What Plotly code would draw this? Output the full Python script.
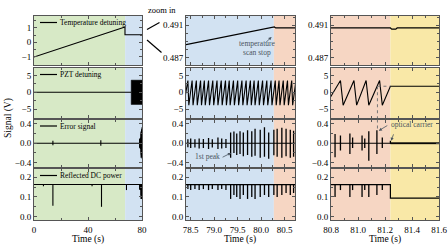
import plotly.graph_objects as go
from plotly.subplots import make_subplots

# ======================= DATA =======================
# phase boundaries (s)
ov_phase_t = [0, 67.5, 80]                 # overview: scan | locking
zm_phase_t = [78.4, 80.27, 81.24, 81.6]    # zoom: scan | stop | locked

# temperature detuning
ov_temp_t = [0, 67.4, 67.4, 80]
ov_temp_v = [-1.0, 1.05, 0.52, 0.52]
zm_temp_t = [78.4, 80.26, 80.28, 80.31, 81.24, 81.25, 81.28, 81.29, 81.6]
zm_temp_v = [0.48858, 0.49070, 0.49078, 0.49066, 0.49066, 0.49052, 0.49052, 0.49066, 0.49066]

# PZT detuning
ov_pzt_t = [0, 72]
ov_pzt_v = [0, 0]
ov_pzt_env_t = [72, 80]
ov_pzt_env_hi = [3.6, 3.6]
ov_pzt_env_lo = [-3.6, -3.6]
pzt_peak_t = [78.44, 78.53, 78.62, 78.71, 78.79, 78.88, 78.97, 79.06, 79.15, 79.24,
              79.32, 79.41, 79.50, 79.59, 79.68, 79.77, 79.85, 79.94, 80.03, 80.12,
              80.21, 80.30, 80.38, 80.47, 80.56, 80.65, 80.74, 80.87, 80.97, 81.06, 81.16]
pzt_trough_t = [78.46, 78.55, 78.64, 78.73, 78.81, 78.90, 78.99, 79.08, 79.17, 79.26,
                79.34, 79.43, 79.52, 79.61, 79.70, 79.79, 79.87, 79.96, 80.05, 80.14,
                80.23, 80.32, 80.40, 80.49, 80.58, 80.67, 80.76, 80.89, 80.99, 81.08, 81.18]
pzt_peak_v = 3.5
pzt_trough_v = -3.8
pzt_start = (78.35, -3.8)
pzt_lock_t = [81.24, 81.6]
pzt_lock_v = [1.8, 1.8]

# error signal
ov_err_t = [0, 80]
ov_err_v = [0, 0]
ov_err_spk_t = [14, 49.5]
ov_err_spk_hi = [0.05, 0.06]
ov_err_spk_lo = [-0.04, -0.05]
err_spk_t = [78.44, 78.50, 78.59, 78.68, 78.77, 78.88, 78.96, 79.08, 79.16, 79.25,
             79.35, 79.42, 79.48, 79.55, 79.62, 79.71, 79.80, 79.87, 79.98, 80.07,
             80.16, 80.27, 80.34, 80.44, 80.53, 80.62, 80.69,
             80.83, 80.87, 80.94, 80.96, 81.03, 81.05, 81.08, 81.14, 81.18, 81.24]
err_spk_hi = [0.08, 0.10, 0.08, 0.10, 0.09, 0.11, 0.08, 0.12, 0.10, 0.09,
              0.22, 0.24, 0.20, 0.25, 0.22, 0.27, 0.25, 0.30, 0.28, 0.33,
              0.22, 0.28, 0.30, 0.32, 0.30, 0.28, 0.26,
              0.19, 0.16, 0.20, 0.12, 0.16, 0.10, 0.25, 0.27, 0.12, 0.05]
err_spk_lo = [-0.08, -0.10, -0.09, -0.11, -0.10, -0.12, -0.09, -0.12, -0.11, -0.10,
              -0.30, -0.20, -0.24, -0.22, -0.27, -0.24, -0.28, -0.26, -0.30, -0.28,
              -0.32, -0.25, -0.28, -0.30, -0.27, -0.30, -0.28,
              -0.29, -0.15, -0.22, -0.10, -0.15, -0.10, -0.36, -0.22, -0.10, 0.0]
err_t = [78.4, 81.6]
err_v = [0, 0]
err_lock_t = [81.24, 81.6]
err_lock_hi = [0.012, 0.012]
err_lock_lo = [-0.012, -0.012]

# reflected DC power
dc_t = [0, 81.24, 81.24, 81.6]
dc_v = [0.163, 0.163, 0.094, 0.094]
ov_dc_dip_t = [7, 14, 43, 50, 68.5]
ov_dc_dip_lo = [0.155, 0.055, 0.155, 0.05, 0.135]
dc_dip_t = err_spk_t[:-1]
dc_dip_lo = [0.14, 0.135, 0.14, 0.135, 0.14, 0.135, 0.14, 0.135, 0.14, 0.135,
             0.09, 0.11, 0.10, 0.09, 0.11, 0.09, 0.10, 0.09, 0.10, 0.11,
             0.10, 0.11, 0.10, 0.11, 0.12, 0.11, 0.12,
             0.10, 0.135, 0.10, 0.135, 0.10, 0.135, 0.10, 0.11, 0.135]

# axis labels
row_names = ["Temperature detuning", "PZT detuning", "Error signal", "Reflected DC power"]
ov_xticks = [0, 40, 80]
mid_xticks = [78.5, 79.0, 79.5, 80.0, 80.5]
rt_xticks = [80.8, 81.0, 81.2, 81.4, 81.6]

# ======================= STYLE =======================
W, H = 448, 252
FONT = "Liberation Serif"
C_GREEN, C_BLUE, C_ORANGE, C_YELLOW = "#d7e9c6", "#d2e2f2", "#f6d6c3", "#f9e8a7"
FRAME = "#555555"
col_px = [(34, 142), (186, 295), (331, 439)]
row_px = [(16, 65), (68, 118), (119.5, 167), (169, 220)]

def PX(x):
    return x / W

def PY(y):
    return 1 - y / H

fig = make_subplots(rows=4, cols=3)

def ax(r, c):
    n = (r - 1) * 3 + c
    return ("x%d" % n if n > 1 else "x"), ("y%d" % n if n > 1 else "y")

def line(r, c, x, y, w=1.1, **kw):
    fig.add_trace(go.Scatter(x=x, y=y, mode="lines", line=dict(color="black", width=w),
                             showlegend=False, hoverinfo="skip", **kw), row=r, col=c)

def spikes(r, c, ts, his, los, w=1.1):
    xs, ys = [], []
    for t, h, l in zip(ts, his, los):
        xs += [t, t, None]
        ys += [h, l, None]
    line(r, c, xs, ys, w=w)

def band(r, c, ts, his, los):
    xs = list(ts) + list(ts[::-1]) + [ts[0]]
    ys = list(his) + list(los[::-1]) + [his[0]]
    fig.add_trace(go.Scatter(x=xs, y=ys, mode="lines", fill="toself", fillcolor="black",
                             line=dict(color="black", width=0.5), showlegend=False,
                             hoverinfo="skip"), row=r, col=c)

# sawtooth vertices from peak/trough lists
saw_x = [pzt_start[0]]
saw_y = [pzt_start[1]]
for p, q in zip(pzt_peak_t, pzt_trough_t):
    saw_x += [p, q]
    saw_y += [pzt_peak_v, pzt_trough_v]
saw_x += [pzt_lock_t[0], pzt_lock_t[1]]
saw_y += [pzt_lock_v[0], pzt_lock_v[1]]

# --- column 1 (overview)
line(1, 1, ov_temp_t, ov_temp_v)
line(2, 1, ov_pzt_t, ov_pzt_v)
band(2, 1, ov_pzt_env_t, ov_pzt_env_hi, ov_pzt_env_lo)
line(3, 1, ov_err_t, ov_err_v)
spikes(3, 1, ov_err_spk_t, ov_err_spk_hi, ov_err_spk_lo)
spikes(3, 1, err_spk_t, err_spk_hi, err_spk_lo)
line(4, 1, dc_t, dc_v)
spikes(4, 1, ov_dc_dip_t, [0.166] * len(ov_dc_dip_t), ov_dc_dip_lo)
spikes(4, 1, dc_dip_t, [0.163] * len(dc_dip_t), dc_dip_lo)

# --- columns 2 and 3 (zoom)
for c in (2, 3):
    line(1, c, zm_temp_t, zm_temp_v, w=1.2)
    line(2, c, saw_x, saw_y, w=1.1)
    line(3, c, err_t, err_v)
    spikes(3, c, err_spk_t, err_spk_hi, err_spk_lo, w=1.3)
    band(3, c, err_lock_t, err_lock_hi, err_lock_lo)
    line(4, c, dc_t, dc_v, w=1.2)
    spikes(4, c, dc_dip_t, [0.163] * len(dc_dip_t), dc_dip_lo, w=1.3)

# ---- axes
xranges = [[0, 80], [78.4, 80.72], [80.8, 81.6]]
xticks = [ov_xticks, mid_xticks, rt_xticks]
xfmt = ["d", ".1f", ".1f"]
xminor = [20, 0.25, 0.1]
yranges = {1: [[-1.55, 1.8], [0.48605, 0.49215], [0.48605, 0.49215]],
           2: [[-7.6, 7.2]] * 3, 3: [[-0.49, 0.49]] * 3, 4: [[-0.017, 0.242]] * 3}
yticks = {1: [[-1, 0, 1], [0.487, 0.491], [0.487, 0.491]],
          2: [[-5, 0, 5]] * 3, 3: [[-0.4, 0.0, 0.4]] * 3, 4: [[0.0, 0.1, 0.2]] * 3}
yfmt = {1: ["d", ".3f", ".3f"], 2: ["d"] * 3, 3: [".1f"] * 3, 4: [".1f"] * 3}
yminor = {1: [0.5, 0.001, 0.001], 2: [2.5] * 3, 3: [0.2] * 3, 4: [0.05] * 3}

common = dict(showline=True, linecolor=FRAME, linewidth=1, mirror="ticks", ticks="inside",
              ticklen=3, tickwidth=1, tickcolor=FRAME, showgrid=False, zeroline=False,
              tickfont=dict(family=FONT, size=9, color="black"))
for r in range(1, 5):
    for c in range(1, 4):
        xa, ya = ax(r, c)
        xk = "xaxis" + xa[1:]
        yk = "yaxis" + ya[1:]
        x0, x1 = col_px[c - 1]
        y0, y1 = row_px[r - 1]
        fig.layout[xk].update(domain=[PX(x0), PX(x1)], range=xranges[c - 1],
                              tickvals=xticks[c - 1], tickformat=xfmt[c - 1],
                              showticklabels=(r == 4), ticklabelstandoff=1,
                              minor=dict(ticks="inside", dtick=xminor[c - 1], ticklen=2,
                                         tickcolor=FRAME),
                              **common)
        fig.layout[yk].update(domain=[PY(y1), PY(y0)], range=yranges[r][c - 1],
                              tickvals=yticks[r][c - 1], tickformat=yfmt[r][c - 1],
                              minor=dict(ticks="inside", dtick=yminor[r][c - 1], ticklen=2,
                                         tickcolor=FRAME),
                              **common)

# ---- phase backgrounds
shapes = []
for r in range(1, 5):
    xa, ya = ax(r, 1)
    for t0, t1, col in zip(ov_phase_t[:-1], ov_phase_t[1:], [C_GREEN, C_BLUE]):
        shapes.append(dict(type="rect", xref=xa, yref=ya + " domain", x0=t0, x1=t1, y0=0, y1=1,
                           fillcolor=col, line=dict(width=0), layer="below"))
    for c in (2, 3):
        xa, ya = ax(r, c)
        for t0, t1, col in zip(zm_phase_t[:-1], zm_phase_t[1:], [C_BLUE, C_ORANGE, C_YELLOW]):
            shapes.append(dict(type="rect", xref=xa, yref=ya + " domain", x0=t0, x1=t1, y0=0, y1=1,
                               fillcolor=col, line=dict(width=0), layer="below"))

def txt(x, y, text, size, color="black", **kw):
    d = dict(x=PX(x), y=PY(y), xref="paper", yref="paper", text=text, showarrow=False,
             xanchor="center", yanchor="middle", font=dict(family=FONT, size=size, color=color))
    d.update(kw)
    return d

# legend-like labels in overview column
ann = []
for r, name in enumerate(row_names, start=1):
    ty = row_px[r - 1][0] + 6.5
    shapes.append(dict(type="line", xref="paper", yref="paper", x0=PX(40), x1=PX(57),
                       y0=PY(ty), y1=PY(ty), line=dict(color="black", width=1.2)))
    ann.append(txt(58, ty, name, 7.5, xanchor="left"))

# zoom-in connectors
shapes.append(dict(type="line", xref="paper", yref="paper", x0=PX(147), y0=PY(29.5), x1=PX(159.5),
                   y1=PY(22.5), line=dict(color="black", width=1.2)))
shapes.append(dict(type="line", xref="paper", yref="paper", x0=PX(147), y0=PY(40), x1=PX(161.5),
                   y1=PY(52.5), line=dict(color="black", width=1.2)))
ann.append(txt(162, 10, "zoom in", 8.5))

# dotted guide lines in right column
carrier_t = 81.144
xa2, ya2 = ax(2, 3)
xa3, ya3 = ax(3, 3)
dot = dict(color="#777777", width=1, dash="dot")
shapes.append(dict(type="line", xref=xa2, yref=ya2, x0=carrier_t, x1=carrier_t, y0=1.8, y1=-7.6, line=dot))
shapes.append(dict(type="line", xref=xa2, yref=ya2, x0=carrier_t, x1=81.24, y0=1.8, y1=1.8, line=dot))
shapes.append(dict(type="line", xref=xa3, yref=ya3, x0=carrier_t, x1=carrier_t, y0=0.49, y1=0.27, line=dot))

# annotations with arrows
GRAY = "#4a5560"
arrow = dict(text="", showarrow=True, arrowhead=2, arrowsize=0.8, arrowwidth=0.8, arrowcolor=GRAY)
xa1, ya1 = ax(1, 2)
ann.append(dict(x=80.22, y=0.48955, xref=xa1, yref=ya1, ax=-7, ay=7, **arrow))
ann.append(txt(257, 43, "temperature", 7.5, GRAY))
ann.append(txt(257, 52.5, "scan stop", 7.5, GRAY))
xa, ya = ax(3, 2)
ann.append(dict(x=79.36, y=-0.2, xref=xa, yref=ya, ax=-10, ay=5, **arrow))
ann.append(txt(207, 156, "1st peak", 7.5, GRAY))
ann.append(dict(x=carrier_t + 0.01, y=0.26, xref=xa3, yref=ya3, ax=10, ay=-6, **arrow))
ann.append(dict(x=81.245, y=0.05, xref=xa3, yref=ya3, ax=3, ay=-8, **arrow))
ann.append(txt(389, 124.5, "optical carrier", 7.5, GRAY, xanchor="left"))

# axis titles
for c in range(3):
    x0, x1 = col_px[c]
    ann.append(txt((x0 + x1) / 2, 239, "Time (s)", 9.5))
ann.append(txt(8, 118, "Signal (V)", 9.5, textangle=-90))

fig.update_layout(width=W, height=H, margin=dict(l=0, r=0, t=0, b=0, autoexpand=False),
                  autosize=False, paper_bgcolor="white", plot_bgcolor="white",
                  shapes=shapes, annotations=ann, font=dict(family=FONT), hovermode=False)
fig.write_html("out.html", config={"displayModeBar": False, "staticPlot": True},
               post_script="document.body.style.margin='0px';document.body.style.overflow='hidden';")
